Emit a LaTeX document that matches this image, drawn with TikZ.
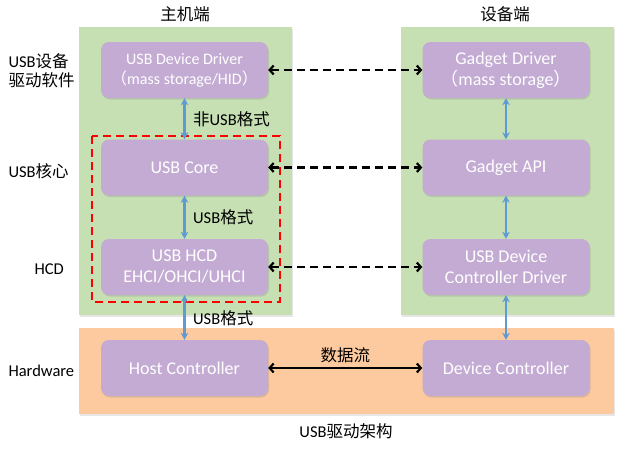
\documentclass[tikz,border=0pt]{standalone}
\usepackage{fontspec}
\setmainfont{Carlito}
\newfontfamily\cjk{Noto Sans CJK SC}
\usepackage{xcolor}
\usetikzlibrary{arrows.meta,positioning,shadows}

\definecolor{layergreen}{HTML}{C6DFB3}
\definecolor{layerorange}{HTML}{FCCA9E}
\definecolor{modpurple}{HTML}{C3ABD3}
\definecolor{flowblue}{HTML}{5E9AD3}

\begin{document}
\begin{tikzpicture}[x=1pt, y=-1pt,
    layerbox/.style={minimum width=213pt, inner sep=0pt,
        drop shadow={shadow xshift=1pt, shadow yshift=-1.5pt, opacity=0.2}},
    module/.style={fill=modpurple, rounded corners=8pt, minimum width=167pt, minimum height=56pt,
        inner sep=0pt, text=white, align=center, font=\fontsize{18}{21}\selectfont,
        drop shadow={shadow xshift=1pt, shadow yshift=-1.5pt, opacity=0.25}},
    sidelabel/.style={anchor=west, align=left, font=\fontsize{16.5}{19}\selectfont},
    pathlabel/.style={text=black, font=\fontsize{16.5}{19}\selectfont},
    busarrow/.style={{Stealth[length=7pt,width=7.5pt]}-{Stealth[length=7pt,width=7.5pt]}, flowblue, line width=2.6pt},
    linkarrow/.style={{Straight Barb[length=4pt,width=9pt]}-{Straight Barb[length=4pt,width=9pt]}, black, line width=2.2pt}
]
\useasboundingbox (0,0) rectangle (630,451);

% Layers (host side, device side, hardware)
\node[layerbox, fill=layergreen, minimum height=288pt] (hostside) at (185.5,171) {};
\node[layerbox, fill=layergreen, minimum height=288pt] (devside) at (507.5,171) {};
\node[layerbox, fill=layerorange, minimum width=535pt, minimum height=86pt] (hwlayer) at (346.5,371) {};

% Column titles
\node[font=\cjk\fontsize{16.5}{19}\selectfont] (hosttitle) at (185,14) {主机端};
\node[font=\cjk\fontsize{16.5}{19}\selectfont] (devtitle) at (505,14) {设备端};
\node[font=\fontsize{16.5}{19}\selectfont] (caption) at (346,431) {USB{\cjk 驱动架构}};

% USB core + HCD range
\draw[red, line width=2.6pt, dash pattern=on 8pt off 5pt] (92,136) rectangle (280,302);

% Host modules
\node[module, font=\fontsize{16}{20}\selectfont] (hostdrv) at (184.5,70) {USB Device Driver\\{\cjk （}mass storage/HID{\cjk ）}};
\node[module] (hostcore) at (184.5,167.5) {USB Core};
\node[module] (hosthcd) at (184.5,267) {USB HCD\\EHCI/OHCI/UHCI};
\node[module] (hostctrl) at (184.5,368) {Host Controller};

% Device modules
\node[module] (gadgetdrv) at (506,70) {Gadget Driver\\{\cjk （}mass storage{\cjk ）}};
\node[module] (gadgetapi) at (506,167.5) {Gadget API};
\node[module] (udcdrv) at (506,267) {USB Device\\Controller Driver};
\node[module] (devctrl) at (506,368) {Device Controller};

% Layer names
\node[sidelabel] (lblsoft) at (5,71) {USB{\cjk 设备}\\{\cjk 驱动软件}};
\node[sidelabel] (lblcore) at (5,171) {USB{\cjk 核心}};
\node[sidelabel] (lblhcd) at (31,269) {HCD};
\node[sidelabel] (lblhw) at (5,371) {Hardware};

% Vertical data paths
\draw[busarrow] (hostdrv) -- (hostcore) node[midway, right=4pt, pathlabel] {{\cjk 非}USB{\cjk 格式}};
\draw[busarrow] (hostcore) -- (hosthcd) node[midway, right=4pt, pathlabel] {USB{\cjk 格式}};
\draw[busarrow] (hosthcd) -- (hostctrl) node[midway, right=4pt, yshift=-1pt, pathlabel] {USB{\cjk 格式}};
\draw[busarrow] (gadgetdrv) -- (gadgetapi);
\draw[busarrow] (gadgetapi) -- (udcdrv);
\draw[busarrow] (udcdrv) -- (devctrl);

% Peer links
\draw[linkarrow, dash pattern=on 8pt off 5pt] (hostdrv) -- (gadgetdrv);
\draw[linkarrow, dash pattern=on 8pt off 5pt] (hostcore) -- (gadgetapi);
\draw[linkarrow, dash pattern=on 8pt off 5pt] (hosthcd) -- (udcdrv);
\draw[linkarrow] (hostctrl) -- (devctrl) node[midway, above=1pt, pathlabel, font=\cjk\fontsize{16.5}{19}\selectfont] {数据流};

\end{tikzpicture}
\end{document}
